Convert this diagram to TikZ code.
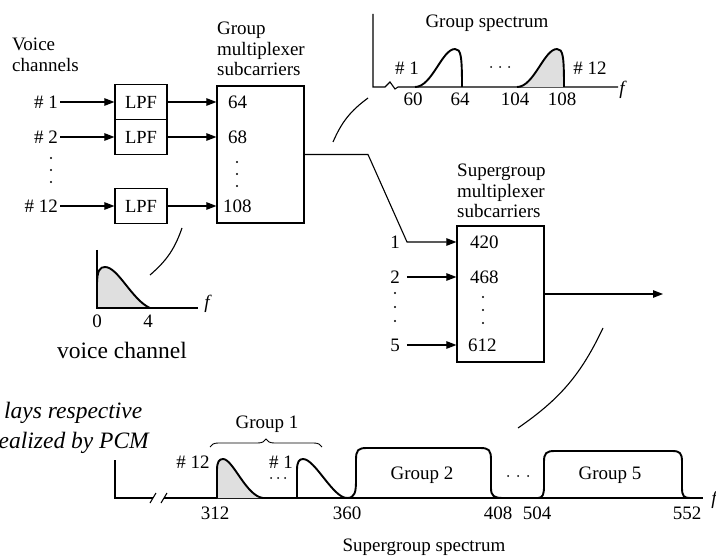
\documentclass[tikz,border=0pt]{standalone}
\usepackage{fontspec}
\setmainfont{Liberation Serif}
\usetikzlibrary{arrows.meta,positioning,decorations.pathreplacing}
\tikzset{
  lpfbox/.style={rectangle, draw=black, line width=1.2pt, minimum width=52pt, minimum height=35pt, inner sep=0pt, font=\fontsize{18.5}{20}\selectfont},
  muxbox/.style={rectangle, draw=black, line width=1.2pt, minimum width=87pt, minimum height=137pt, inner sep=0pt},
  lbl/.style={inner sep=2pt, font=\fontsize{19}{20.5}\selectfont},
  flabel/.style={inner sep=0pt, font=\fontsize{19}{21}\selectfont\itshape},
  sigarrow/.style={-{Triangle[length=10pt,width=7.5pt]}, line width=1.1pt},
  axisline/.style={line width=1.1pt},
  pulse/.style={line width=1.9pt, line join=round},
  callout/.style={line width=1.1pt},
  dotmark/.style={fill=black}
}
\begin{document}
\begin{tikzpicture}[x=1pt,y=-1pt]
\useasboundingbox (0,0) rectangle (716,559);
\clip (0,0) rectangle (716,559);

% group multiplexer
\node[lbl, anchor=west, align=left] (vchan) at (10,55) {Voice\\channels};
\node[lbl, anchor=east] (in1) at (60,102) {\# 1};
\node[lbl, anchor=east] (in2) at (60,137) {\# 2};
\node[lbl, anchor=east] (in12) at (60,206) {\# 12};
\node[lpfbox] (lpf1) at (141,102) {LPF};
\node[lpfbox] (lpf2) at (141,137) {LPF};
\node[lpfbox] (lpf12) at (141,206) {LPF};
\node[muxbox] (gmux) at (260.5,154.5) {};
\node[lbl, anchor=west, align=left] (gtitle) at (215,49) {Group\\multiplexer\\subcarriers};
\node[lbl, anchor=west] (c64) at (226,102) {64};
\node[lbl, anchor=west] (c68) at (226,137) {68};
\node[lbl, anchor=west] (c108) at (221,206) {108};

\foreach \a/\b in {in1/lpf1, in2/lpf2, in12/lpf12}
  \draw[sigarrow] (\a) -- (\b);
\foreach \a in {lpf1, lpf2, lpf12}
  \draw[sigarrow] (\a) -- (\a -| gmux.west);
\foreach \yy in {158,170,182} \fill[dotmark] (51,\yy) circle (1.1);
\foreach \yy in {162,174,186} \fill[dotmark] (237,\yy) circle (1.1);

% supergroup multiplexer
\node[muxbox, minimum height=136pt] (smux) at (500.5,294) {};
\node[lbl, anchor=west, align=left] (stitle) at (455,191) {Supergroup\\multiplexer\\subcarriers};
\node[lbl, anchor=west] (c420) at (468,242) {420};
\node[lbl, anchor=west] (c468) at (468,277) {468};
\node[lbl, anchor=west] (c612) at (466,345) {612};
\node[lbl] (sg1) at (395,242) {1};
\node[lbl] (sg2) at (395,277) {2};
\node[lbl] (sg5) at (395,345) {5};
\coordinate (bend1) at (368,154.5);
\coordinate (bend2) at (407,242);
\coordinate (sgout) at (663,294);

\draw[sigarrow] (gmux.east) -- (bend1) -- (bend2) -- (bend2 -| smux.west);
\draw[sigarrow, shorten <=5pt] (sg2) -- (sg2 -| smux.west);
\draw[sigarrow, shorten <=5pt] (sg5) -- (sg5 -| smux.west);
\draw[sigarrow] (smux) -- (sgout);
\foreach \yy in {293,307,321} \fill[dotmark] (395,\yy) circle (1.1);
\foreach \yy in {297,310,323} \fill[dotmark] (483,\yy) circle (1.1);

% voice channel spectrum
\fill[gray!25] (97,308) -- (97,285) .. controls (97,270) and (100,267) .. (105,267) .. controls (118,267) and (132,300) .. (150,308) -- cycle;
\draw[axisline] (97,250) -- (97,308) -- (198,308);
\draw[pulse] (97,308) -- (97,285) .. controls (97,270) and (100,267) .. (105,267) .. controls (118,267) and (132,300) .. (150,308);
\node[lbl] (v0) at (97,321) {0};
\node[lbl] (v4) at (148,321) {4};
\node[flabel] (vf) at (207,304) {f};
\node[inner sep=0pt, font=\fontsize{23.5}{26}\selectfont] (vname) at (122,350) {voice channel};
\coordinate (vcall1) at (182,228);
\coordinate (vcall2) at (150,275);
\draw[callout] (vcall1) to[bend left=15] (vcall2);

% group spectrum
\draw[axisline] (373,14) -- (373,87) -- (385,87) -- (390,82) -- (395,89) -- (398,87) -- (618,87);
\draw[pulse] (415,87) .. controls (432,87) and (442,49) .. (455,49) .. controls (461,49) and (462,56) .. (462,87);
\fill[gray!25] (517,87) .. controls (534,87) and (544,49) .. (557,49) .. controls (563,49) and (564,56) .. (564,87) -- cycle;
\draw[pulse] (517,87) .. controls (534,87) and (544,49) .. (557,49) .. controls (563,49) and (564,56) .. (564,87);
\node[lbl] (gname) at (487,23) {Group spectrum};
\node[lbl] (gs1) at (407,68) {\# 1};
\foreach \xx in {491,500,509} \fill[dotmark] (\xx,67) circle (1);
\node[lbl] (gs12) at (590,68) {\# 12};
\node[lbl] (g60) at (413,99) {60};
\node[lbl] (g64) at (460,99) {64};
\node[lbl] (g104) at (515,99) {104};
\node[lbl] (g108) at (562,99) {108};
\node[flabel] (gf) at (622,90) {f};
\coordinate (gcall1) at (333,142);
\coordinate (gcall2) at (368,98);
\draw[callout] (gcall1) to[bend left=15] (gcall2);

% supergroup spectrum
\draw[axisline] (115,460) -- (115,498) -- (153,498);
\draw[axisline] (150,503) -- (156,493);
\draw[axisline] (161,503) -- (167,493);
\draw[axisline] (164,498) -- (703,498);
\fill[gray!25] (217,498) -- (217,470) .. controls (217,462) and (219,459) .. (223,459) .. controls (233,459) and (246,496) .. (263,498) -- cycle;
\draw[pulse] (217,498) -- (217,470) .. controls (217,462) and (219,459) .. (223,459) .. controls (233,459) and (246,496) .. (263,498);
\draw[pulse] (297,498) -- (297,470) .. controls (297,462) and (299,459) .. (303,459) .. controls (315,459) and (333,498) .. (347,498) .. controls (355,498) and (356,492) .. (356,480) -- (356,460) .. controls (356,450) and (358,448) .. (367,448) -- (480,448) .. controls (489,448) and (491,450) .. (491,460) -- (491,488) .. controls (491,496) and (494,498) .. (503,498);
\draw[pulse] (538,498) .. controls (543,498) and (544,494) .. (544,486) -- (544,462) .. controls (544,453) and (546,451) .. (555,451) -- (672,451) .. controls (680,451) and (682,453) .. (682,462) -- (682,488) .. controls (682,496) and (684,498) .. (690,498);
\draw[decorate, decoration={brace, amplitude=8pt}, line width=0.9pt] (210,447) -- (322,447);
\node[lbl] (grp1) at (267,424) {Group 1};
\node[lbl] (sp12) at (193,462) {\# 12};
\node[lbl] (sp1) at (281,462) {\# 1};
\foreach \xx in {271,278,285} \fill[dotmark] (\xx,478) circle (1);
\node[lbl] (grp2) at (422,475) {Group 2};
\foreach \xx in {508,518,528} \fill[dotmark] (\xx,476) circle (1);
\node[lbl] (grp5) at (610,475) {Group 5};
\node[lbl] (s312) at (215,513) {312};
\node[lbl] (s360) at (347,513) {360};
\node[lbl] (s408) at (498,513) {408};
\node[lbl] (s504) at (537,513) {504};
\node[lbl] (s552) at (687,513) {552};
\node[flabel] (sf) at (714,500) {f};
\node[lbl] (sname) at (424,547) {Supergroup spectrum};
\coordinate (scall1) at (603,328);
\coordinate (scall2) at (518,428);
\draw[callout] (scall1) to[bend left=15] (scall2);

% cut-off note
\node[anchor=west, inner sep=0pt, font=\fontsize{23.5}{27}\selectfont\itshape] (note1) at (4,413) {lays respective};
\node[anchor=east, inner sep=0pt, font=\fontsize{23.5}{27}\selectfont\itshape] (note2) at (149,443) {ealized by PCM};
\end{tikzpicture}
\end{document}
